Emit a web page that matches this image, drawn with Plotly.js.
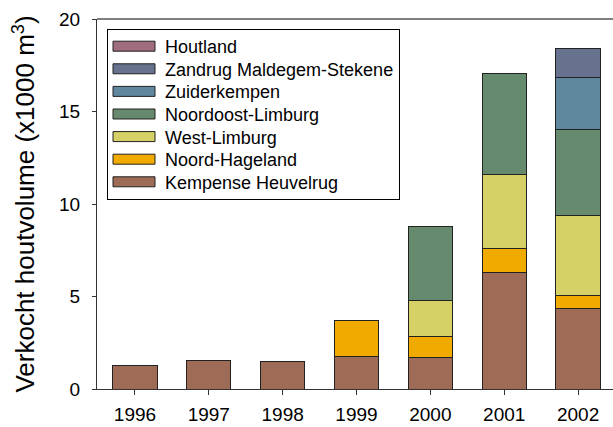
<!DOCTYPE html>
<html>
<head>
<meta charset="utf-8">
<script src="https://cdn.plot.ly/plotly-3.0.1.min.js"></script>
<style>html,body{margin:0;padding:0;background:#fff;}#chart{width:613px;height:427px;}</style>
</head>
<body>
<div id="chart"></div>
<script>
var years = ['1996','1997','1998','1999','2000','2001','2002'];
var seriesNames = ['Kempense Heuvelrug','Noord-Hageland','West-Limburg','Noordoost-Limburg','Zuiderkempen','Zandrug Maldegem-Stekene','Houtland'];
var kempenseHeuvelrug = [1.27, 1.55, 1.51, 1.78, 1.73, 6.32, 4.36];
var noordHageland     = [0,    0,    0,    1.91, 1.10, 1.27, 0.69];
var westLimburg       = [0,    0,    0,    0,    1.93, 4.03, 4.34];
var noordoostLimburg  = [0,    0,    0,    0,    4.01, 5.44, 4.65];
var zuiderkempen      = [0,    0,    0,    0,    0,    0,    2.79];
var zandrugMaldegem   = [0,    0,    0,    0,    0,    0,    1.59];
var houtland          = [0,    0,    0,    0,    0,    0,    0];
var seriesValues = [kempenseHeuvelrug, noordHageland, westLimburg, noordoostLimburg, zuiderkempen, zandrugMaldegem, houtland];
var seriesColors = ['#9E6C56','#F0AA00','#D6D166','#658A6D','#5F879E','#66728E','#A06D7E'];

var traces = seriesNames.map(function(name, i){
  return {
    type: 'bar', name: name, x: years,
    y: seriesValues[i].map(function(v){ return v === 0 ? null : v; }),
    marker: {color: seriesColors[i], line: {color: '#222', width: 1}},
    width: 0.6, hoverinfo: 'y+name'
  };
});

var FONT = '"Liberation Sans", Arial, sans-serif';
var layout = {
  width: 613, height: 427,
  margin: {l: 97, r: 0, t: 19, b: 38, pad: 0},
  barmode: 'stack',
  paper_bgcolor: '#fff', plot_bgcolor: '#fff',
  font: {family: FONT, color: '#000', size: 19},
  showlegend: true,
  legend: {
    x: 0.0194, y: 0.973, xanchor: 'left', yanchor: 'top',
    bordercolor: '#000', borderwidth: 1, bgcolor: '#fff',
    traceorder: 'reversed', font: {family: FONT, size: 18}, itemwidth: 47,
    tracegroupgap: 0
  },
  xaxis: {
    type: 'category', range: [-0.514, 6.473],
    showline: true, linecolor: '#333', linewidth: 1,
    ticks: 'outside', ticklen: 5, tickcolor: '#333',
    showgrid: false, zeroline: false, fixedrange: true,
    tickfont: {family: FONT, size: 19}, ticklabelstandoff: 3
  },
  yaxis: {
    range: [0, 20], tickvals: [0,5,10,15,20],
    showline: true, linecolor: '#333', linewidth: 1,
    ticks: 'outside', ticklen: 4, tickcolor: '#333',
    showgrid: false, zeroline: false, fixedrange: true,
    tickfont: {family: FONT, size: 19}, ticklabelstandoff: 8,
    title: {text: 'Verkocht houtvolume (x1000 m<sup>3</sup>)', font: {family: FONT, size: 26}, standoff: 16}
  },
  shapes: [{type: 'line', xref: 'paper', yref: 'paper', x0: 0, x1: 1, y0: 1, y1: 1, line: {color: '#555', width: 1.5}}]
};

Plotly.newPlot('chart', traces, layout, {displayModeBar: false, staticPlot: true}).then(function(gd){
  var pts = gd.querySelectorAll('.legend .legendpoints path');
  pts.forEach(function(p){
    p.setAttribute('d', 'M18.5,5H-23.5V-5H18.5Z');
  });
  // tighten legend row spacing to match the reference box
  var groups = gd.querySelectorAll('.legend .traces');
  var step = 22.6, first = null;
  groups.forEach(function(g, i){
    var t = g.getAttribute('transform') || '';
    var m = /translate\(([-\d.]+)[ ,]+([-\d.]+)\)/.exec(t);
    if (!m) return;
    var x = parseFloat(m[1]), y = parseFloat(m[2]);
    if (first === null) first = y - 2;
    g.setAttribute('transform', 'translate(' + x + ',' + (first + i * step) + ')');
  });
  var bg = gd.querySelector('.legend .bg');
  if (bg) bg.setAttribute('height', 170);
  var clip = gd.querySelectorAll('.legend clipPath rect, defs [id^="legend"] rect');
  clip.forEach(function(r){ r.setAttribute('height', 170); });
});
</script>
</body>
</html>
